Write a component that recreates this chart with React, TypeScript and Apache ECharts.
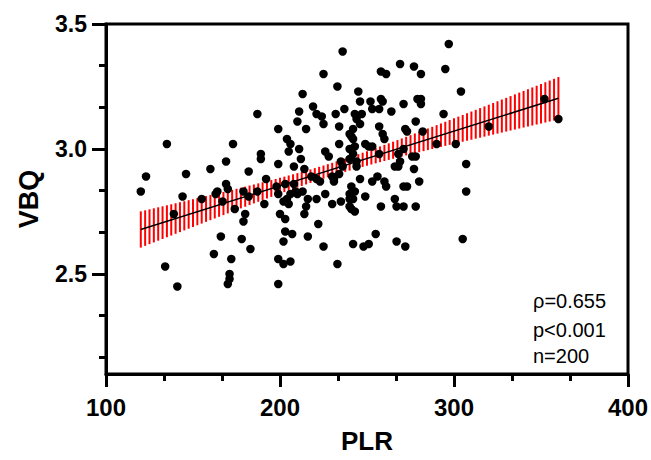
import React, { useEffect, useRef } from "react";
import * as echarts from "echarts";

// PLR (x) and VBQ (y) values of each patient
const PLR_VALUES = [
  120, 123, 135, 134, 139, 141, 144, 146, 155, 160, 162, 163, 164, 166, 167, 169, 169, 170, 170, 171,
  171, 172, 173, 174, 178, 179, 179, 180, 182, 182, 183, 187, 187, 189, 189, 191, 192, 198, 199, 199,
  199, 200, 199, 199, 202, 202, 203, 203, 208, 209, 206, 204, 202, 205, 203, 207, 204, 206, 205, 208,
  210, 211, 211, 212, 213, 213, 210, 214, 215, 215, 216, 214, 216, 219, 218, 221, 224, 225, 221, 223,
  221, 222, 225, 225, 226, 228, 226, 206, 230, 231, 231, 230, 232, 233, 233, 234, 234, 235, 236, 234,
  235, 236, 237, 240, 241, 242, 242, 240, 242, 240, 243, 244, 244, 241, 243, 240, 242, 240, 240, 241,
  243, 242, 245, 246, 243, 247, 244, 246, 246, 248, 249, 249, 251, 253, 251, 252, 253, 253, 255, 256,
  257, 257, 258, 259, 258, 261, 257, 259, 260, 260, 261, 258, 264, 266, 268, 266, 267, 267, 268, 269,
  269, 271, 271, 273, 271, 272, 273, 271, 272, 276, 278, 277, 277, 278, 279, 281, 281, 278, 280, 281,
  282, 290, 294, 295, 297, 301, 304, 305, 307, 307, 320, 352, 360,
];
const VBQ_VALUES = [
  2.83, 2.89, 3.02, 2.53, 2.74, 2.45, 2.81, 2.9, 2.8, 2.92, 2.58, 2.82, 2.83, 2.65, 2.79, 2.95, 2.86, 2.84, 2.46, 2.5,
  2.48, 2.56, 3.02, 2.76, 2.64, 2.83, 2.71, 2.74, 2.91, 2.81, 2.6, 3.14, 2.83, 2.98, 2.96, 2.78, 2.88, 2.85, 2.82, 2.94,
  3.08, 2.74, 2.56, 2.46, 2.54, 2.63, 2.67, 2.86, 2.86, 2.83, 2.82, 2.8, 2.79, 2.78, 2.72, 2.66, 3.04, 3.02, 2.99, 2.93,
  3.11, 3.15, 3.0, 2.96, 3.22, 2.83, 2.82, 2.92, 3.08, 2.77, 2.8, 2.74, 2.65, 3.17, 2.89, 3.14, 3.13, 3.1, 2.88, 2.87,
  2.8, 2.7, 3.3, 2.61, 2.99, 2.97, 2.82, 2.55, 2.89, 2.88, 2.87, 2.78, 3.14, 3.25, 2.54, 3.09, 3.02, 2.95, 2.93, 2.9,
  2.79, 3.39, 3.16, 3.06, 3.05, 3.08, 3.04, 3.0, 2.98, 2.96, 3.01, 2.95, 2.93, 2.85, 2.83, 2.82, 2.8, 2.8, 2.77, 2.76,
  2.75, 2.62, 3.23, 3.19, 3.14, 3.14, 3.12, 3.1, 2.88, 2.61, 2.81, 3.02, 3.01, 3.01, 2.62, 3.19, 3.16, 2.87, 2.66, 2.89,
  3.09, 3.16, 3.2, 3.19, 3.31, 3.3, 2.98, 3.06, 3.04, 2.87, 2.85, 2.77, 3.15, 2.93, 2.93, 2.8, 2.77, 2.63, 2.98, 2.95,
  3.34, 3.18, 2.85, 2.85, 2.77, 3.08, 3.07, 3.0, 2.61, 2.97, 2.97, 2.92, 3.33, 3.11, 3.2, 3.2, 3.18, 2.77, 2.87, 3.3,
  3.07, 3.02, 3.14, 3.32, 3.42, 3.02, 3.23, 2.64, 2.83, 2.94, 3.09, 3.2, 3.12,
];

const X_MIN = 100;
const X_MAX = 400;
const X_INTERVAL = 100;
const Y_MIN = 2.1;
const Y_MAX = 3.5;
const Y_MAJOR_TICKS = [2.5, 3.0, 3.5];
const Y_MINOR_TICKS = [2.1667, 2.3333, 2.6667, 2.8333, 3.1667, 3.3333];
const STATS_LINES = ["ρ=0.655", "p<0.001", "n=200"];

const FONT = '"Liberation Sans", Arial, Helvetica, sans-serif';

export default function App() {
  const ref = useRef<HTMLDivElement>(null);

  useEffect(() => {
    if (!ref.current) return;
    const chart = echarts.init(ref.current, null, { renderer: "svg" });

    const n = Math.min(PLR_VALUES.length, VBQ_VALUES.length);
    const points: number[][] = [];
    for (let i = 0; i < n; i++) points.push([PLR_VALUES[i], VBQ_VALUES[i]]);

    // least-squares fit with 95% confidence band of the mean
    const mx = PLR_VALUES.slice(0, n).reduce((a, b) => a + b, 0) / n;
    const my = VBQ_VALUES.slice(0, n).reduce((a, b) => a + b, 0) / n;
    let sxx = 0;
    let sxy = 0;
    for (let i = 0; i < n; i++) {
      sxx += (PLR_VALUES[i] - mx) ** 2;
      sxy += (PLR_VALUES[i] - mx) * (VBQ_VALUES[i] - my);
    }
    const slope = sxy / sxx;
    const intercept = my - slope * mx;
    let sse = 0;
    for (let i = 0; i < n; i++) {
      const r = VBQ_VALUES[i] - (intercept + slope * PLR_VALUES[i]);
      sse += r * r;
    }
    const s = Math.sqrt(sse / (n - 2));
    const tCrit = 1.972;
    const xLo = Math.min(...PLR_VALUES);
    const xHi = Math.max(...PLR_VALUES);
    const fit = (x: number) => intercept + slope * x;
    const half = (x: number) => tCrit * s * Math.sqrt(1 / n + (x - mx) ** 2 / sxx);

    const option: any = {
      animation: false,
      backgroundColor: "#fff",
      textStyle: { fontFamily: FONT },
      grid: {
        left: 106,
        right: 23,
        top: 24,
        bottom: 86,
        show: true,
        borderColor: "#000",
        borderWidth: 3,
        containLabel: false,
        outerBoundsMode: "none",
      },
      xAxis: {
        type: "value",
        min: X_MIN,
        max: X_MAX,
        interval: X_INTERVAL,
        name: "PLR",
        nameLocation: "middle",
        nameGap: 54,
        nameTextStyle: { fontSize: 26, fontWeight: "bold", color: "#000", fontFamily: FONT },
        axisLine: { show: true, lineStyle: { color: "#000", width: 3 } },
        axisTick: { show: true, length: 13, lineStyle: { color: "#000", width: 3 } },
        minorTick: { show: true, splitNumber: 3, length: 7, lineStyle: { color: "#000", width: 3 } },
        axisLabel: { margin: 21, fontSize: 24, fontWeight: "bold", color: "#000", fontFamily: FONT },
        splitLine: { show: false },
        minorSplitLine: { show: false },
      },
      yAxis: [
        {
          type: "value",
          min: Y_MIN,
          max: Y_MAX,
          name: "VBQ",
          nameLocation: "middle",
          nameGap: 64,
          nameTextStyle: { fontSize: 27, fontWeight: "bold", color: "#000", fontFamily: FONT },
          axisLine: { show: true, lineStyle: { color: "#000", width: 3 } },
          axisTick: {
            show: true,
            length: 14,
            customValues: Y_MAJOR_TICKS,
            lineStyle: { color: "#000", width: 3 },
          },
          axisLabel: {
            customValues: Y_MAJOR_TICKS,
            formatter: (v: number) => v.toFixed(1),
            margin: 19,
            fontSize: 23,
            fontWeight: "bold",
            color: "#000",
            fontFamily: FONT,
          },
          splitLine: { show: false },
        },
        {
          type: "value",
          min: Y_MIN,
          max: Y_MAX,
          position: "left",
          axisLine: { show: false },
          axisTick: {
            show: true,
            length: 7,
            customValues: Y_MINOR_TICKS,
            lineStyle: { color: "#000", width: 3 },
          },
          axisLabel: { show: false },
          splitLine: { show: false },
        },
      ],
      series: [
        {
          type: "custom",
          coordinateSystem: "cartesian2d",
          z: 1,
          silent: true,
          data: [[xLo, fit(xLo)]],
          renderItem: (_params: any, api: any) => {
            const children: any[] = [];
            const step = 2.5;
            for (let x = xLo; x <= xHi + 1e-6; x += step) {
              const p1 = api.coord([x, fit(x) + half(x)]);
              const p2 = api.coord([x, fit(x) - half(x)]);
              children.push({
                type: "line",
                shape: { x1: p1[0], y1: p1[1], x2: p2[0], y2: p2[1] },
                style: { stroke: "#ff0000", lineWidth: 2 },
              });
            }
            return { type: "group", children };
          },
        },
        {
          type: "line",
          z: 2,
          symbol: "none",
          silent: true,
          data: [
            [xLo, fit(xLo)],
            [xHi, fit(xHi)],
          ],
          lineStyle: { color: "#000", width: 1.5 },
        },
        {
          type: "scatter",
          z: 3,
          symbol: "circle",
          symbolSize: 8.5,
          itemStyle: { color: "#000", opacity: 1 },
          data: points,
        },
      ],
      graphic: STATS_LINES.map((t, i) => ({
        type: "text",
        x: 533,
        y: [301, 330, 356][i],
        style: {
          text: t,
          fill: "#000",
          font: `20px ${FONT}`,
          verticalAlign: "middle",
        },
      })),
    };

    chart.setOption(option);
    return () => chart.dispose();
  }, []);

  return (
    <div
      ref={ref}
      style={{ position: "absolute", left: 0, top: 0, width: 651, height: 460 }}
    />
  );
}
